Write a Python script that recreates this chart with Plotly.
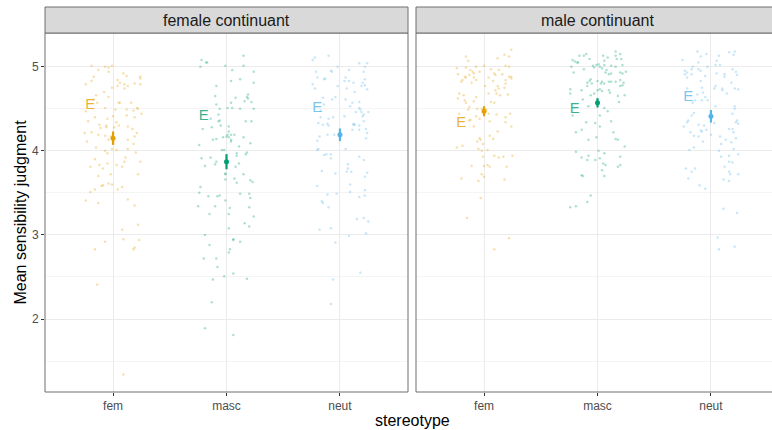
import plotly.graph_objects as go

# ---------------- data ----------------
categories = ["fem", "masc", "neut"]
panels = ["female continuant", "male continuant"]

# female continuant panel: jitter offsets (category units) and judgments
female_fem_dx = [-0.19,-0.13,-0.07,-0.04,-0.01,-0.04,0.09,0.12,0.24,0.24,
                 -0.17,-0.19,0.04,0.06,-0.24,0.10,0.13,0.04,0.19,0.24,
                 -0.01,0.10,-0.08,-0.15,-0.04,-0.17,-0.14,0.05,0.06,0.16,
                 0.02,-0.07,0.12,0.18,0.21,0.22,-0.24,0.25,0.12,0.19,
                 -0.16,-0.05,0.00,-0.22,-0.12,-0.06,0.03,0.05,0.13,0.17,
                 -0.11,-0.06,0.01,0.21,-0.25,-0.19,-0.13,-0.07,-0.02,0.19,
                 -0.04,0.13,-0.23,0.00,0.18,-0.15,-0.01,0.03,-0.07,0.13,
                 -0.05,0.20,0.11,-0.16,0.24,0.10,-0.05,-0.12,-0.09,0.03,
                 -0.20,0.08,-0.02,0.22,-0.13,-0.04,-0.01,-0.09,-0.10,0.08,
                 0.04,-0.16,-0.20,-0.24,-0.13,0.13,0.19,0.22,0.08,0.09,
                 0.23,-0.07,-0.16,0.19,0.18,-0.14,0.09]
female_fem_y = [5.01,4.96,5.00,4.99,5.01,4.94,4.92,4.89,4.88,4.86,
                4.88,4.83,4.84,4.81,4.79,4.79,4.77,4.77,4.80,4.79,
                4.75,4.74,4.70,4.66,4.64,4.61,4.57,4.57,4.57,4.57,
                4.49,4.51,4.49,4.48,4.51,4.50,4.47,4.44,4.42,4.40,
                4.40,4.38,4.41,4.35,4.31,4.30,4.34,4.30,4.29,4.26,
                4.27,4.28,4.28,4.21,4.21,4.22,4.19,4.18,4.17,4.17,
                4.13,4.13,4.11,4.10,4.08,4.04,4.02,4.01,4.00,4.02,
                3.97,3.98,3.92,3.90,3.87,3.87,3.85,3.83,3.79,3.83,
                3.81,3.81,3.72,3.72,3.70,3.61,3.60,3.59,3.58,3.57,
                3.54,3.54,3.51,3.41,3.38,3.42,3.35,3.12,3.06,2.95,
                2.94,2.92,2.83,2.85,2.83,2.41,1.34]

female_masc_dx = [-0.22,-0.18,-0.17,-0.23,-0.01,0.15,0.15,0.05,0.24,0.12,
                  0.04,0.24,-0.09,0.19,0.08,0.18,0.19,0.16,0.22,-0.10,
                  0.04,-0.09,-0.06,0.01,0.05,0.12,0.24,-0.07,-0.14,-0.06,
                  -0.07,0.17,0.22,0.02,-0.05,-0.13,-0.21,0.02,0.01,0.00,
                  0.04,0.07,-0.03,0.02,0.04,0.04,-0.09,-0.12,0.15,0.21,
                  -0.24,0.11,-0.04,-0.02,0.09,0.09,0.17,0.18,-0.22,-0.14,
                  -0.09,-0.10,0.11,-0.19,0.08,-0.01,-0.01,0.15,-0.01,0.07,
                  0.09,0.21,0.23,-0.23,-0.24,-0.16,-0.08,-0.06,0.12,0.20,
                  -0.01,0.21,-0.25,-0.10,0.03,0.20,-0.15,0.02,0.24,0.16,
                  0.20,0.02,-0.19,0.06,0.06,0.12,-0.15,0.03,0.02,-0.20,
                  -0.09,-0.08,-0.02,0.06,-0.12,0.18,-0.13,-0.19,0.06]
female_masc_y = [5.08,5.05,5.05,5.00,5.01,5.13,5.01,4.96,4.94,4.85,
                 4.83,4.81,4.77,4.67,4.63,4.64,4.62,4.59,4.58,4.65,
                 4.57,4.55,4.50,4.51,4.51,4.50,4.50,4.43,4.38,4.36,
                 4.35,4.35,4.35,4.29,4.30,4.28,4.26,4.23,4.19,4.17,
                 4.19,4.19,4.16,4.16,4.13,4.11,4.14,4.13,4.16,4.09,
                 4.07,4.05,4.01,4.01,3.97,3.94,3.96,3.98,3.91,3.92,
                 3.87,3.84,3.85,3.82,3.81,3.73,3.72,3.72,3.66,3.67,
                 3.62,3.65,3.63,3.57,3.50,3.46,3.46,3.47,3.49,3.49,
                 3.41,3.44,3.34,3.34,3.32,3.33,3.25,3.25,3.22,3.14,
                 3.10,3.08,3.00,2.95,2.94,2.92,2.88,2.83,2.79,2.72,
                 2.72,2.62,2.51,2.54,2.47,2.48,2.20,1.89,1.81]

female_neut_dx = [-0.24,-0.22,-0.10,-0.02,0.17,0.24,0.22,0.08,-0.21,-0.08,
                  -0.07,0.21,-0.20,-0.14,-0.13,0.05,0.04,0.08,0.12,0.22,
                  0.20,0.19,0.22,-0.24,-0.02,-0.22,0.06,0.24,0.13,-0.15,
                  -0.04,-0.07,0.05,0.11,0.17,-0.14,0.09,0.17,0.18,-0.17,
                  0.14,0.19,0.21,0.25,0.20,-0.06,-0.10,0.04,-0.17,-0.19,
                  -0.15,-0.11,-0.10,0.21,0.12,0.12,0.17,0.13,0.11,0.17,
                  0.23,0.24,-0.05,-0.11,-0.18,0.23,-0.20,-0.19,0.05,-0.20,
                  -0.14,-0.12,-0.08,-0.08,0.17,0.21,0.07,0.07,-0.16,-0.04,
                  0.06,0.10,0.24,0.22,0.09,-0.20,0.09,0.22,-0.11,-0.03,
                  0.22,0.17,-0.16,-0.15,-0.10,0.15,0.21,0.25,-0.18,-0.08,
                  0.08,0.23,-0.04,0.18,-0.06,-0.08]
female_neut_y = [5.08,5.11,5.13,5.00,5.04,5.04,5.00,4.96,4.94,4.95,
                 4.94,4.94,4.87,4.85,4.86,4.87,4.83,4.83,4.81,4.85,
                 4.81,4.77,4.78,4.79,4.77,4.74,4.74,4.73,4.70,4.63,
                 4.64,4.61,4.61,4.57,4.58,4.55,4.53,4.51,4.49,4.48,
                 4.46,4.46,4.43,4.46,4.41,4.40,4.38,4.41,4.40,4.33,
                 4.31,4.32,4.30,4.35,4.32,4.31,4.30,4.31,4.25,4.25,
                 4.26,4.21,4.19,4.19,4.17,4.15,4.12,4.02,4.02,4.01,
                 3.95,3.96,3.96,3.91,3.93,3.89,3.84,3.79,3.76,3.73,
                 3.75,3.75,3.74,3.69,3.60,3.58,3.51,3.53,3.48,3.49,
                 3.47,3.45,3.40,3.38,3.33,3.19,3.20,3.16,3.06,3.08,
                 2.99,3.02,2.91,2.55,2.47,2.18]

# male continuant panel
male_fem_dx = [-0.16,-0.14,0.18,0.12,0.22,0.24,-0.24,-0.16,-0.07,0.00,
               0.19,0.22,-0.12,-0.10,-0.09,-0.04,0.06,0.13,-0.23,-0.13,
               -0.17,-0.16,-0.19,-0.20,-0.09,-0.07,-0.11,0.04,0.09,0.10,
               0.16,0.22,0.24,0.24,0.19,0.08,0.01,0.12,0.13,0.18,
               0.19,-0.22,-0.18,-0.23,-0.17,-0.16,-0.09,-0.07,0.04,0.10,
               0.11,0.14,0.21,0.06,0.09,-0.13,-0.14,-0.06,-0.02,0.02,
               -0.22,0.04,-0.04,-0.07,0.11,0.19,0.23,-0.12,-0.13,0.05,
               0.19,-0.09,0.24,0.12,0.05,0.08,-0.04,-0.03,-0.06,-0.01,
               -0.24,-0.19,-0.05,-0.02,0.03,-0.01,0.09,0.13,0.17,0.25,
               -0.11,0.00,0.03,0.05,0.20,-0.02,0.00,-0.20,0.18,-0.05,
               -0.03,-0.15,0.22,0.09]
male_fem_y = [5.12,5.07,5.14,5.10,5.12,5.20,4.98,4.99,5.00,5.01,
              5.01,5.00,4.96,4.94,4.92,4.94,4.97,4.96,4.91,4.90,
              4.88,4.87,4.84,4.82,4.87,4.84,4.81,4.87,4.92,4.90,
              4.91,4.88,4.88,4.86,4.84,4.83,4.77,4.77,4.74,4.75,
              4.80,4.68,4.66,4.62,4.60,4.57,4.59,4.64,4.68,4.72,
              4.68,4.66,4.67,4.58,4.57,4.52,4.49,4.50,4.50,4.49,
              4.44,4.44,4.38,4.41,4.43,4.40,4.44,4.37,4.36,4.35,
              4.34,4.29,4.29,4.23,4.18,4.14,4.15,4.13,4.11,4.08,
              4.04,4.06,4.02,4.00,4.01,3.93,3.94,3.92,3.93,3.94,
              3.82,3.82,3.83,3.81,3.81,3.72,3.69,3.67,3.66,3.64,
              3.44,3.20,2.96,2.83]

male_masc_dx = [-0.22,-0.20,-0.18,-0.17,-0.16,-0.12,-0.10,-0.07,0.05,0.09,
                0.16,0.20,0.16,0.17,0.21,0.06,-0.04,-0.01,0.01,0.02,
                -0.03,0.04,0.06,0.12,0.16,0.22,-0.23,-0.12,0.08,0.07,
                0.10,0.12,0.25,0.20,0.22,-0.21,-0.06,-0.07,-0.09,-0.05,
                -0.09,0.00,0.04,0.03,0.06,0.10,0.12,0.16,0.20,0.23,
                0.22,0.20,-0.14,-0.24,-0.24,-0.06,-0.03,0.00,0.02,0.04,
                0.10,0.11,0.18,0.24,-0.13,-0.08,0.19,0.06,0.09,-0.22,
                0.02,-0.10,-0.02,0.02,0.12,-0.14,-0.19,0.14,-0.08,-0.01,
                0.16,0.18,0.24,-0.19,0.01,0.06,-0.14,-0.08,-0.09,-0.02,
                0.02,0.20,0.05,0.07,0.18,0.20,0.04,-0.14,-0.13,0.06,
                -0.06,-0.09,-0.19,-0.24]
male_masc_y = [5.08,5.06,5.05,5.05,5.13,5.13,5.15,5.09,5.13,5.11,
               5.18,5.15,5.13,5.09,5.09,5.07,5.01,5.02,5.03,5.00,
               4.99,4.98,5.02,5.01,5.00,5.02,5.00,4.97,4.96,4.93,
               4.91,4.92,4.94,4.93,4.92,4.93,4.85,4.83,4.81,4.80,
               4.77,4.83,4.82,4.80,4.80,4.82,4.82,4.82,4.84,4.81,
               4.78,4.77,4.72,4.73,4.68,4.66,4.68,4.72,4.73,4.71,
               4.72,4.69,4.65,4.66,4.61,4.53,4.58,4.51,4.47,4.42,
               4.42,4.34,4.33,4.29,4.35,4.25,4.22,4.22,4.13,4.16,
               4.14,4.13,4.05,3.99,4.00,3.97,3.92,3.94,3.89,3.89,
               3.91,3.93,3.85,3.83,3.81,3.83,3.77,3.71,3.70,3.70,
               3.47,3.39,3.34,3.33]

male_neut_dx = [-0.12,-0.09,-0.04,0.07,0.05,0.16,0.21,0.20,-0.25,-0.11,
                -0.16,-0.17,-0.11,-0.09,-0.03,0.04,0.08,0.19,0.22,-0.23,
                -0.21,-0.23,-0.17,-0.21,-0.05,0.05,0.12,0.12,0.23,-0.09,
                0.18,0.04,0.03,0.10,0.10,0.14,0.21,0.24,-0.21,-0.08,
                -0.07,-0.12,-0.05,-0.03,-0.08,-0.14,-0.16,0.04,0.21,0.21,
                -0.15,-0.17,0.19,0.23,0.22,0.24,-0.20,-0.21,-0.24,0.03,
                -0.11,-0.06,-0.04,-0.09,-0.08,-0.11,-0.07,-0.18,-0.15,0.16,
                0.19,0.20,0.00,0.08,0.13,0.18,0.22,0.09,-0.15,-0.19,
                0.20,0.07,0.24,0.09,0.16,0.16,0.19,0.12,-0.22,-0.17,
                -0.14,0.16,0.17,0.24,-0.20,0.11,0.16,-0.10,-0.05,0.11,
                0.23,0.06,0.07,0.21]
male_neut_y = [5.18,5.12,5.15,5.13,5.07,5.17,5.18,5.14,5.08,5.05,
               5.00,4.97,4.97,4.95,5.00,5.02,5.02,4.97,4.94,4.95,
               4.93,4.91,4.91,4.87,4.89,4.92,4.91,4.88,4.90,4.83,
               4.81,4.77,4.74,4.74,4.72,4.68,4.74,4.73,4.74,4.75,
               4.69,4.67,4.64,4.60,4.60,4.60,4.57,4.53,4.53,4.50,
               4.45,4.42,4.44,4.36,4.34,4.32,4.36,4.34,4.29,4.33,
               4.31,4.30,4.25,4.24,4.23,4.17,4.11,4.22,4.18,4.26,
               4.26,4.22,4.19,4.17,4.13,4.10,4.15,4.08,4.04,4.01,
               4.02,4.00,3.96,3.93,3.94,3.87,3.86,3.81,3.79,3.75,
               3.79,3.75,3.72,3.72,3.67,3.66,3.64,3.59,3.55,3.31,
               3.26,2.97,2.83,2.86]

# means with confidence half-widths
mean_female = [4.15, 3.87, 4.19]
ci_female = [0.08, 0.09, 0.075]
mean_male = [4.47, 4.57, 4.41]
ci_male = [0.06, 0.055, 0.075]

# "E" labels (offset and height)
e_dx = [-0.20, -0.20, -0.20]
e_y_female = [4.54, 4.41, 4.50]
e_y_male = [4.33, 4.49, 4.64]

# ---------------- styling ----------------
colors = ["#E69F00", "#009E73", "#56B4E9"]
rgba = ["230,159,0", "0,158,115", "86,180,233"]
FONT = "Liberation Sans, Arial, Helvetica, sans-serif"
BORDER = "#6E6E6E"

panel_data = [
    ([female_fem_dx, female_masc_dx, female_neut_dx],
     [female_fem_y, female_masc_y, female_neut_y],
     mean_female, ci_female, e_y_female, "x", "y"),
    ([male_fem_dx, male_masc_dx, male_neut_dx],
     [male_fem_y, male_masc_y, male_neut_y],
     mean_male, ci_male, e_y_male, "x2", "y2"),
]

fig = go.Figure()
for dxs, ys, means, cis, eys, xa, ya in panel_data:
    for i, cat in enumerate(categories):
        pos = i + 1
        fig.add_trace(go.Scatter(
            x=[pos + d for d in dxs[i]], y=ys[i], mode="markers",
            marker=dict(size=2.5, color=colors[i], opacity=0.32, line=dict(width=0)),
            xaxis=xa, yaxis=ya, showlegend=False, hoverinfo="skip"))
        fig.add_trace(go.Scatter(
            x=[pos + e_dx[i]], y=[eys[i]], mode="text", text=["E"],
            textposition="middle center",
            textfont=dict(size=15, color=f"rgba({rgba[i]},0.8)", family=FONT),
            xaxis=xa, yaxis=ya, showlegend=False, hoverinfo="skip"))
        fig.add_trace(go.Scatter(
            x=[pos], y=[means[i]], mode="markers",
            marker=dict(size=5, color=colors[i]),
            error_y=dict(type="data", array=[cis[i]], color=colors[i],
                         thickness=2.2, width=0),
            xaxis=xa, yaxis=ya, showlegend=False, hoverinfo="skip"))

W, H = 772, 430
ML, MR, MT, MB = 45, 0, 33, 38
plot_w = W - ML - MR
plot_h = H - MT - MB
left_px = 363
gap_px = 8
px_per_unit = left_px / 3.2
right_px = plot_w - left_px - gap_px
d1 = left_px / plot_w
d2 = (left_px + gap_px) / plot_w

axis_common = dict(
    tickvals=[1, 2, 3], ticktext=categories, showgrid=True,
    gridcolor="#EBEBEB", gridwidth=1, ticks="outside", ticklen=3,
    tickcolor="#333333", tickwidth=1, zeroline=False, showline=False,
    tickfont=dict(size=12, color="#4D4D4D", family=FONT))
yaxis_common = dict(
    range=[1.133, 5.40], tickvals=[2, 3, 4, 5], showgrid=True,
    gridcolor="#EBEBEB", gridwidth=1, zeroline=False, showline=False,
    minor=dict(tickvals=[1.5, 2.5, 3.5, 4.5], showgrid=True,
               gridcolor="#F4F4F4", gridwidth=0.6, ticks=""))

strip_h = 26 / plot_h
shapes = []
for xref, x1 in [("x domain", 1), ("x2 domain", 1.05)]:
    yref = "y domain" if xref == "x domain" else "y2 domain"
    shapes.append(dict(type="rect", xref=xref, yref=yref, x0=0, x1=x1, y0=0, y1=1,
                       line=dict(color=BORDER, width=1), fillcolor="rgba(0,0,0,0)",
                       layer="above"))
    shapes.append(dict(type="rect", xref=xref, yref="paper", x0=0, x1=x1,
                       y0=1, y1=1 + strip_h, line=dict(color=BORDER, width=1),
                       fillcolor="#D9D9D9", layer="above"))

annotations = [
    dict(text=panels[0], xref="x", x=2, yref="paper", y=1 + strip_h / 2,
         showarrow=False, font=dict(size=16, color="#1A1A1A", family=FONT),
         xanchor="center", yanchor="middle"),
    dict(text=panels[1], xref="x2", x=2, yref="paper", y=1 + strip_h / 2,
         showarrow=False, font=dict(size=16, color="#1A1A1A", family=FONT),
         xanchor="center", yanchor="middle"),
    dict(text="Mean sensibility judgment", xref="paper", x=(20 - ML) / plot_w,
         yref="paper", y=0.5, textangle=-90, showarrow=False,
         font=dict(size=16, color="#000000", family=FONT),
         xanchor="center", yanchor="middle"),
    dict(text="stereotype", xref="paper", x=(412 - ML) / plot_w,
         yref="paper", y=-(420 - (H - MB)) / plot_h, showarrow=False,
         font=dict(size=16, color="#000000", family=FONT),
         xanchor="center", yanchor="middle"),
]

fig.update_layout(
    width=W, height=H, margin=dict(l=ML, r=MR, t=MT, b=MB),
    plot_bgcolor="white", paper_bgcolor="white",
    font=dict(family=FONT),
    xaxis=dict(domain=[0, d1], range=[0.4, 3.6], anchor="y", **axis_common),
    xaxis2=dict(domain=[d2, 1], range=[0.4, 0.4 + right_px / px_per_unit],
                anchor="y2", **axis_common),
    yaxis=dict(domain=[0, 1], anchor="x", ticks="outside", ticklen=3,
               tickcolor="#333333", tickwidth=1,
               tickfont=dict(size=12, color="#4D4D4D", family=FONT), **yaxis_common),
    yaxis2=dict(domain=[0, 1], anchor="x2", matches="y", showticklabels=False,
                ticks="", **yaxis_common),
    shapes=shapes, annotations=annotations, showlegend=False,
)

fig.write_html("out.html", config={"displayModeBar": False},
               post_script="document.body.style.margin='0';document.body.style.overflow='hidden';")
